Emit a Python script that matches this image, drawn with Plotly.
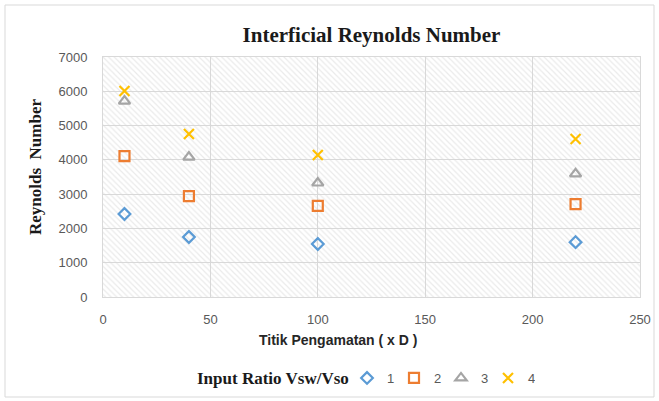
import plotly.graph_objects as go

x_pos = [10, 40, 100, 220]
series_names = ["1", "2", "3", "4"]
re_1 = [2420, 1750, 1545, 1600]
re_2 = [4110, 2945, 2655, 2710]
re_3 = [5715, 4080, 3325, 3590]
re_4 = [6010, 4755, 4140, 4610]
x_ticks = [0, 50, 100, 150, 200, 250]
y_ticks = [0, 1000, 2000, 3000, 4000, 5000, 6000, 7000]

X_RANGE = [0, 250]
Y_RANGE = [0, 7000]

W, H = 659, 401
ML, MR, MT, MB = 103, 19, 57, 104
PW, PH = W - ML - MR, H - MT - MB

fig = go.Figure()

# hatched background filling the plot area
fig.add_trace(go.Bar(
    x=[(X_RANGE[0] + X_RANGE[1]) / 2], y=[Y_RANGE[1]], width=[X_RANGE[1] - X_RANGE[0]],
    marker=dict(color="rgba(0,0,0,0)", line=dict(width=0),
                pattern=dict(shape="\\", fgcolor="#d6d6d6", bgcolor="rgba(0,0,0,0)",
                             size=4, solidity=0.3)),
    showlegend=False, hoverinfo="skip",
))

styles = [
    ("diamond-open", "#5B9BD5", 9),
    ("square-open", "#ED7D31", 10),
    ("triangle-up-open", "#A5A5A5", 10),
    ("x-thin-open", "#FFC000", 10),
]
for name, vals, (sym, col, sz) in zip(series_names, [re_1, re_2, re_3, re_4], styles):
    fig.add_trace(go.Scatter(
        x=x_pos, y=vals, mode="markers", name=name,
        marker=dict(symbol=sym, color=col, size=sz, line=dict(color=col, width=2.2)),
    ))

fig.update_layout(
    width=W, height=H,
    margin=dict(l=ML, r=MR, t=MT, b=MB, autoexpand=False),
    paper_bgcolor="white", plot_bgcolor="white",
    title=dict(text="<b>Interficial Reynolds Number</b>",
               font=dict(family="Liberation Serif", size=21, color="#1a1a1a"),
               x=(ML + PW / 2) / W, xanchor="center", y=1 - 35 / H, yanchor="middle"),
    xaxis=dict(range=X_RANGE, tickvals=x_ticks, showgrid=True, gridcolor="#d9d9d9", gridwidth=1,
               zeroline=False, showline=True, linecolor="#d9d9d9", mirror=True,
               ticks="outside", ticklen=10, tickcolor="rgba(0,0,0,0)", automargin=False,
               tickfont=dict(family="Liberation Sans", size=13, color="#595959")),
    yaxis=dict(range=Y_RANGE, tickvals=y_ticks, showgrid=True, gridcolor="#d9d9d9", gridwidth=1,
               zeroline=False, showline=True, linecolor="#d9d9d9", mirror=True,
               ticks="outside", ticklen=12, tickcolor="rgba(0,0,0,0)", automargin=False,
               tickfont=dict(family="Liberation Sans", size=13, color="#595959")),
    legend=dict(orientation="h", x=(347 - ML) / PW, xanchor="left", y=(297 - 378) / PH, yanchor="middle",
                font=dict(family="Liberation Sans", size=13, color="#595959"),
                itemwidth=30, tracegroupgap=0, entrywidth=2, entrywidthmode="pixels"),
    bargap=0,
    annotations=[
        dict(text="<b>Titik Pengamatan ( x D )</b>", xref="paper", yref="paper",
             x=(338 - ML) / PW, y=(297 - 340) / PH, xanchor="center", yanchor="middle",
             showarrow=False, font=dict(family="Liberation Sans", size=14, color="#262626")),
        dict(text="<b>Reynolds  Number</b>", xref="paper", yref="paper", textangle=-90,
             x=(35 - ML) / PW, y=(297 - 167) / PH, xanchor="center", yanchor="middle",
             showarrow=False, font=dict(family="Liberation Serif", size=17, color="#1a1a1a")),
        dict(text="<b>Input Ratio Vsw/Vso</b>", xref="paper", yref="paper",
             x=(195 - ML) / PW, y=(297 - 378) / PH, xanchor="left", yanchor="middle",
             showarrow=False, font=dict(family="Liberation Serif", size=17, color="#1a1a1a")),
    ],
    shapes=[dict(type="rect", xref="paper", yref="paper",
                 x0=(5 - ML) / PW, x1=(654 - ML) / PW,
                 y0=(H - MB - 397) / PH, y1=(H - MB - 5) / PH,
                 line=dict(color="#d9d9d9", width=1), layer="below")],
)

fig.write_html("out.html", config={"displayModeBar": False},
               post_script="document.body.style.margin='0';")
